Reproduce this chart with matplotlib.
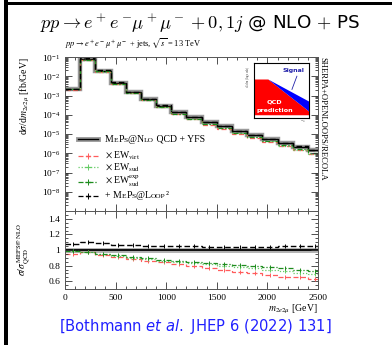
import numpy as np
import matplotlib
matplotlib.use("Agg")
import matplotlib.pyplot as plt
from matplotlib.ticker import MultipleLocator, LogLocator, NullFormatter, FixedLocator
from matplotlib.lines import Line2D
from matplotlib.patches import Rectangle, Polygon
from matplotlib.offsetbox import TextArea, HPacker, AnnotationBbox

plt.rcParams['font.family'] = 'serif'
plt.rcParams['font.serif'] = ['Liberation Serif', 'DejaVu Serif']
plt.rcParams['mathtext.fontset'] = 'stix'

# bin edges in m_{2e2mu} [GeV]
edges = [0, 150, 300, 450, 600, 750, 900, 1050, 1200, 1350, 1500,
         1650, 1800, 1950, 2100, 2250, 2400, 2550]
# MEPS@NLO QCD + YFS  [fb/GeV]
qcd = [2.1e-3, 7.6e-2, 1.85e-2, 4.5e-3, 1.45e-3, 6.5e-4, 3.0e-4, 1.35e-4,
       7.4e-5, 4.0e-5, 2.5e-5, 1.45e-5, 9.0e-6, 5.5e-6, 3.4e-6, 2.2e-6, 1.4e-6]
# ratios to MEPS@NLO QCD
r_virt = [0.945, 0.975, 0.93, 0.905, 0.88, 0.865, 0.84, 0.815, 0.79,
          0.77, 0.745, 0.72, 0.70, 0.685, 0.66, 0.65, 0.625]
r_sud = [0.99, 0.975, 0.95, 0.925, 0.90, 0.885, 0.865, 0.85, 0.835,
         0.815, 0.80, 0.78, 0.765, 0.745, 0.725, 0.71, 0.69]
r_sudexp = [0.99, 0.975, 0.955, 0.93, 0.905, 0.895, 0.875, 0.86, 0.85,
            0.835, 0.82, 0.805, 0.795, 0.78, 0.765, 0.75, 0.735]
r_loop = [1.08, 1.10, 1.09, 1.07, 1.06, 1.055, 1.05, 1.045, 1.045,
          1.04, 1.04, 1.04, 1.04, 1.04, 1.045, 1.045, 1.05]

xticks = [0, 500, 1000, 1500, 2000, 2500]
rticks = [0.6, 0.8, 1.0, 1.2, 1.4]
rtick_labels = ['0.6', '0.8', '1', '1.2', '1.4']

c_virt = '#ff5c5c'
c_sud = '#66cc66'
c_sudexp = '#1e8c1e'

W, H = 392, 345
fig = plt.figure(figsize=(W / 100, H / 100), dpi=100)

def fx(p):
    return p / W

def fy(p):
    return 1 - p / H

def smallcaps(pieces, xy, big=7.0, small=5.4):
    # pieces: list of (text, is_small)
    boxes = [TextArea(t, textprops=dict(fontsize=small if s else big)) for t, s in pieces]
    pack = HPacker(children=boxes, align='baseline', pad=0, sep=0)
    ab = AnnotationBbox(pack, xy, xycoords='figure fraction', box_alignment=(0, 0.5),
                        frameon=False, pad=0)
    fig.add_artist(ab)

# slide frame
fig.add_artist(Rectangle((fx(4), 0), fx(4), 1, transform=fig.transFigure,
                         color='black', lw=0))
fig.add_artist(Rectangle((fx(4), fy(5)), 1, fy(2) - fy(5), transform=fig.transFigure,
                         color='black', lw=0))

ax = fig.add_axes([fx(65), fy(211), fx(318 - 65), fy(57) - fy(211)])
rax = fig.add_axes([fx(65), fy(289), fx(318 - 65), fy(211) - fy(289)], sharex=ax)

e = np.array(edges)
q = np.array(qcd)
centers = 0.5 * (e[:-1] + e[1:])

# main panel
ax.stairs(q, e, color='#9a9a9a', lw=3.2, baseline=None)
ax.stairs(q, e, color='black', lw=1.0, baseline=None)
ax.stairs(q * np.array(r_virt), e, color=c_virt, lw=0.9, ls=(0, (4, 2)), baseline=None)
ax.stairs(q * np.array(r_sud), e, color=c_sud, lw=0.9, ls=(0, (1, 1.5)), baseline=None)
ax.stairs(q * np.array(r_sudexp), e, color=c_sudexp, lw=0.9, ls=(0, (4, 1.5, 1, 1.5)), baseline=None)
ax.stairs(q * np.array(r_loop), e, color='black', lw=1.0, ls=(0, (4, 2)), baseline=None)
ax.set_yscale('log')
ax.set_ylim(1e-9, 1e-1)
ax.set_xlim(0, 2500)

# ratio panel
ones = np.ones(len(q))
rax.stairs(ones, e, color='#b0b0b0', lw=3.5, baseline=None)
rax.stairs(ones, e, color='black', lw=1.3, baseline=None)
rax.stairs(r_virt, e, color=c_virt, lw=0.9, ls=(0, (4, 2)), baseline=None)
rax.stairs(r_sud, e, color=c_sud, lw=0.9, ls=(0, (1, 1.5)), baseline=None)
rax.stairs(r_sudexp, e, color=c_sudexp, lw=0.9, ls=(0, (4, 1.5, 1, 1.5)), baseline=None)
rax.stairs(r_loop, e, color='black', lw=1.0, ls=(0, (4, 2)), baseline=None)
for vals, col in [(r_virt, c_virt), (r_sud, c_sud), (r_sudexp, c_sudexp), (r_loop, 'black')]:
    rax.plot(centers, vals, ls='none', marker='|', ms=3, mew=0.7, color=col)
rax.set_ylim(0.5, 1.5)
rax.set_xlim(0, 2500)

# ticks
for a in (ax, rax):
    a.tick_params(which='both', direction='in', top=True, right=True,
                  labelsize=6.8, width=0.6, colors='#333333', labelcolor='black')
    a.tick_params(which='major', length=5)
    a.tick_params(which='minor', length=2.5)
    a.xaxis.set_major_locator(FixedLocator(xticks))
    a.xaxis.set_minor_locator(MultipleLocator(100))
    for s in a.spines.values():
        s.set_linewidth(0.7)
        s.set_color('#555555')
ax.yaxis.set_major_locator(LogLocator(base=10, numticks=20))
ax.yaxis.set_minor_locator(LogLocator(base=10, subs=np.arange(2, 10), numticks=20))
ax.yaxis.set_minor_formatter(NullFormatter())
ax.set_yticks([1e-8, 1e-7, 1e-6, 1e-5, 1e-4, 1e-3, 1e-2, 1e-1])
ax.tick_params(labelbottom=False)
rax.yaxis.set_major_locator(FixedLocator(rticks))
rax.set_yticklabels(rtick_labels)
rax.yaxis.set_minor_locator(MultipleLocator(0.05))

ax.set_ylabel(r'd$\sigma$/d$m_{2e2\mu}$ [fb/GeV]', fontsize=7, loc='top', labelpad=2)
rax.set_ylabel(r'$\sigma/\sigma_{\rm QCD}^{\rm MEPS@NLO}$', fontsize=7, labelpad=2)
rax.set_xlabel(r'$m_{2e2\mu}$ [GeV]', fontsize=7, loc='right', labelpad=1)
ax.yaxis.set_label_coords(-0.13, 1.0)
rax.yaxis.set_label_coords(-0.13, 0.5)

# right-hand generator label
fig.text(fx(326), fy(57), 'SHERPA+OPENLOOPS/RECOLA', rotation=270, fontsize=6.1,
         ha='left', va='top', rotation_mode='anchor')

# legend, drawn by hand
leg = [
    (None, 139, None),
    (r'$\times\;$EW$_{\rm virt}$', 156, (c_virt, (0, (4, 2)))),
    (r'$\times\;$EW$_{\rm sud}$', 167.5, (c_sud, (0, (1, 1.5)))),
    (r'$\times\;$EW$_{\rm sud}^{\rm exp}$', 181.5, (c_sudexp, (0, (4, 1.5, 1, 1.5)))),
    (None, 196, ('black', (0, (4, 2)))),
]
for label, yp, sty in leg:
    xs = [fx(78), fx(98)]
    ys = [fy(yp), fy(yp)]
    if sty is None:
        fig.add_artist(Line2D(xs, ys, color='#9a9a9a', lw=3.5, transform=fig.transFigure))
        fig.add_artist(Line2D(xs, ys, color='black', lw=1.0, transform=fig.transFigure))
    else:
        fig.add_artist(Line2D(xs, ys, color=sty[0], lw=0.9, ls=sty[1], transform=fig.transFigure))
        fig.add_artist(Line2D([fx(88)], [fy(yp)], color=sty[0], marker='|', ms=5, mew=0.7,
                              ls='none', transform=fig.transFigure))
        fig.add_artist(Line2D([fx(86), fx(90)], [fy(yp), fy(yp)], color=sty[0], lw=0.9,
                              transform=fig.transFigure))
    if label is not None:
        fig.text(fx(105), fy(yp), label, fontsize=7.0, ha='left', va='center')

smallcaps([('M', False), ('E', True), ('P', False), ('S', True), ('@', False),
           ('N', False), ('LO', True), (' QCD + YFS', False)], (fx(105), fy(139)))
smallcaps([('+ M', False), ('E', True), ('P', False), ('S', True), ('@', False),
           ('L', False), ('OOP', True), ('\u00b2', False)], (fx(105), fy(195.5)))

# inset sketch
iax = fig.add_axes([fx(254), fy(118), fx(55), fy(63) - fy(118)])
iax.set_xlim(0, 1)
iax.set_ylim(0, 1)
iax.set_xticks([])
iax.set_yticks([])
for s in iax.spines.values():
    s.set_linewidth(0.8)
iax.add_patch(Polygon([(0, 0.05), (0, 0.70), (0.26, 0.70), (1, 0.12), (1, 0.05)],
                      closed=True, color='#ff0000', lw=0))
iax.add_patch(Polygon([(0.26, 0.70), (1, 0.30), (1, 0.12)], closed=True, color='#0000ff', lw=0))
iax.text(0.72, 0.86, 'Signal', color='#2222aa', fontsize=4.5, family='DejaVu Sans',
         weight='bold', ha='center', va='center')
iax.plot([0.78, 0.69], [0.76, 0.52], color='#2222aa', lw=0.6)
iax.text(0.38, 0.30, 'QCD', color='white', fontsize=4.6, family='DejaVu Sans',
         weight='bold', ha='center', va='center')
iax.text(0.38, 0.13, 'prediction', color='white', fontsize=4.6, family='DejaVu Sans',
         weight='bold', ha='center', va='center')
iax.text(-0.1, 0.75, r'd$\sigma$/dm (log scale)', fontsize=2.2, rotation=90,
         ha='center', va='center', color='#444444')
iax.text(0.9, -0.08, r'$m_{4l}$', fontsize=2.5, ha='center', va='center', color='#444444')

# titles
fig.text(fx(200), fy(24), r'$pp \to e^+e^-\!\mu^+\mu^- + 0, 1j$ @ NLO $+$ PS',
         fontsize=13.2, ha='center', va='center', family='DejaVu Sans', math_fontfamily='cm')
fig.text(fx(65), fy(43), r'$pp \to e^+e^-\mu^+\mu^-$ + jets, $\sqrt{s}$ = 13 TeV',
         fontsize=6, ha='left', va='center')
fig.text(fx(195), fy(327), r'[Bothmann $\it{et\ al.}$ JHEP 6 (2022) 131]', color='#2020ff',
         fontsize=10.6, ha='center', va='center', family='DejaVu Sans', math_fontfamily='dejavusans')

fig.savefig('out.png', dpi=100)
